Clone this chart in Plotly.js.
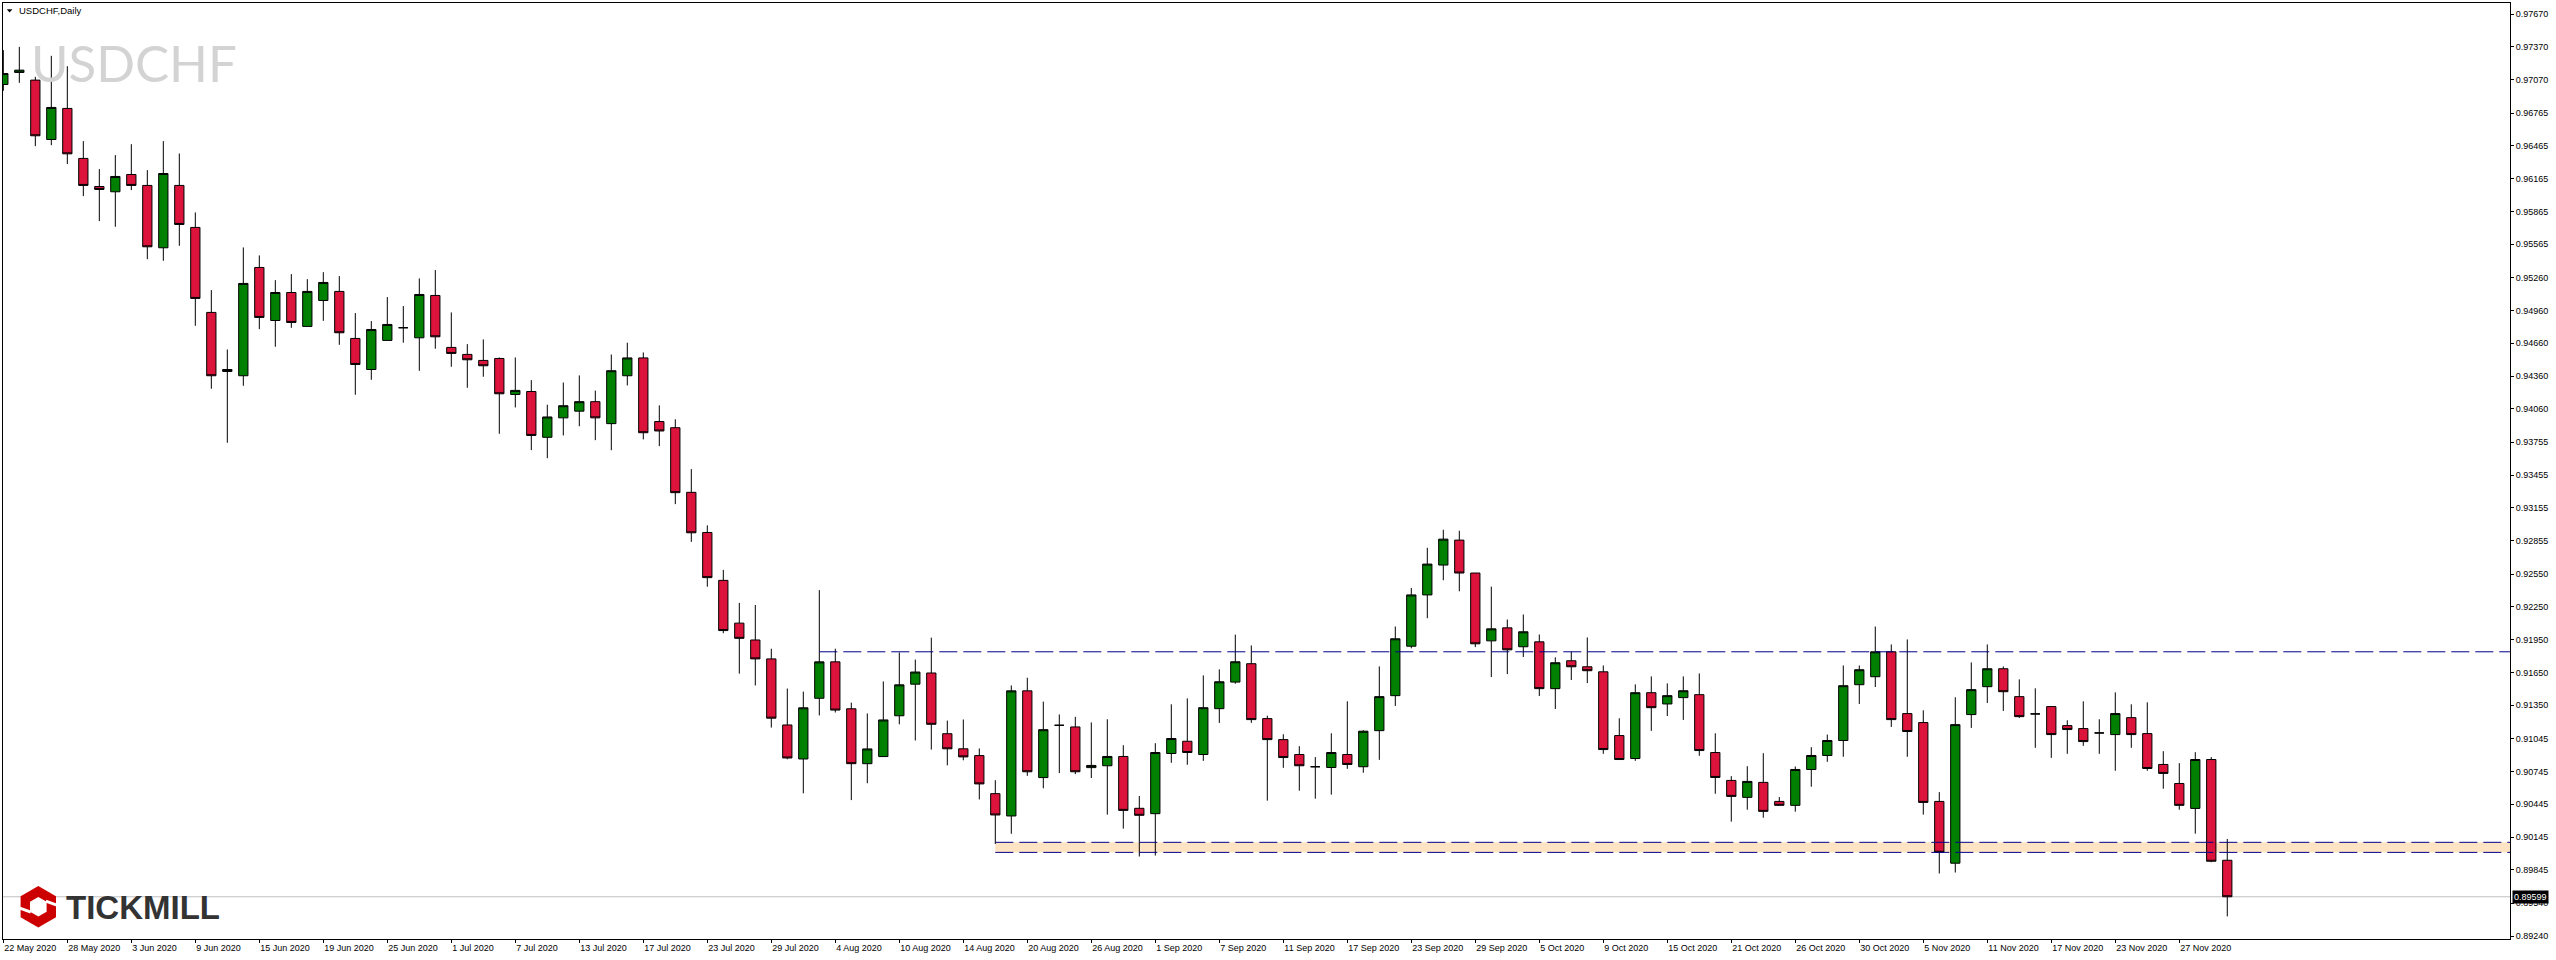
<!DOCTYPE html>
<html>
<head>
<meta charset="utf-8">
<script src="https://cdn.plot.ly/plotly-3.0.1.min.js"></script>
<style>
  html, body { margin: 0; padding: 0; background: #ffffff; }
  #chart { width: 2556px; height: 960px; }
</style>
</head>
<body>
<div id="chart"></div>
<script>
// ---- data (USDCHF, Daily) ----
var openP = [
  0.97026, 0.97136, 0.97066, 0.96523, 0.96807, 0.96350, 0.96093, 0.96045, 0.96203, 0.96103,
  0.95533, 0.96103, 0.95719, 0.94942, 0.94420, 0.94363, 0.95353, 0.94868, 0.95124, 0.94814,
  0.95051, 0.95134, 0.94704, 0.94420, 0.94686, 0.94802, 0.94710, 0.95097, 0.94622, 0.94558,
  0.94503, 0.94521, 0.94192, 0.94219, 0.93800, 0.93978, 0.94039, 0.94126, 0.93925, 0.94363,
  0.94526, 0.93944, 0.93888, 0.93297, 0.92930, 0.92492, 0.92101, 0.91947, 0.91774, 0.91170,
  0.90859, 0.91414, 0.91747, 0.91318, 0.90816, 0.90881, 0.91254, 0.91543, 0.91645, 0.91090,
  0.90952, 0.90890, 0.90542, 0.90338, 0.91482, 0.90689, 0.91167, 0.91152, 0.90780, 0.90797,
  0.90882, 0.90408, 0.90359, 0.90909, 0.91021, 0.90900, 0.91319, 0.91562, 0.91730, 0.91228,
  0.91036, 0.90900, 0.90788, 0.90781, 0.90900, 0.90788, 0.91118, 0.91438, 0.91890, 0.92359,
  0.92632, 0.92860, 0.92559, 0.91939, 0.92058, 0.91885, 0.91930, 0.91502, 0.91757, 0.91702,
  0.91656, 0.91073, 0.90863, 0.91465, 0.91362, 0.91420, 0.91447, 0.90918, 0.90663, 0.90508,
  0.90645, 0.90471, 0.90435, 0.90763, 0.90891, 0.91028, 0.91538, 0.91611, 0.91839, 0.91274,
  0.91192, 0.90471, 0.89906, 0.91265, 0.91520, 0.91684, 0.91429, 0.91271, 0.91338, 0.91164,
  0.91137, 0.91097, 0.91082, 0.91237, 0.91091, 0.90809, 0.90635, 0.90407, 0.90854, 0.89933
];
var highP = [
  0.97340, 0.97370, 0.97096, 0.97288, 0.97193, 0.96508, 0.96252, 0.96380, 0.96480, 0.96243,
  0.96508, 0.96395, 0.95856, 0.95146, 0.94603, 0.95536, 0.95463, 0.95237, 0.95292, 0.95246,
  0.95310, 0.95274, 0.94936, 0.94863, 0.95082, 0.95000, 0.95253, 0.95329, 0.94942, 0.94652,
  0.94695, 0.94530, 0.94530, 0.94323, 0.94098, 0.94301, 0.94366, 0.94227, 0.94557, 0.94665,
  0.94576, 0.94092, 0.93965, 0.93509, 0.92995, 0.92588, 0.92286, 0.92267, 0.91867, 0.91503,
  0.91475, 0.92403, 0.91867, 0.91374, 0.91275, 0.91568, 0.91833, 0.91768, 0.91968, 0.91210,
  0.91220, 0.90955, 0.90665, 0.91531, 0.91602, 0.91383, 0.91266, 0.91244, 0.91193, 0.91222,
  0.90985, 0.90520, 0.91003, 0.91359, 0.91413, 0.91623, 0.91678, 0.91996, 0.91897, 0.91255,
  0.91085, 0.90976, 0.90876, 0.91094, 0.91386, 0.91122, 0.91705, 0.92070, 0.92423, 0.92790,
  0.92955, 0.92946, 0.92559, 0.92435, 0.92134, 0.92180, 0.91997, 0.91788, 0.91839, 0.91970,
  0.91714, 0.91231, 0.91541, 0.91614, 0.91550, 0.91614, 0.91641, 0.91094, 0.90702, 0.90793,
  0.90912, 0.90511, 0.90790, 0.90967, 0.91082, 0.91714, 0.91714, 0.92070, 0.91906, 0.91952,
  0.91304, 0.90556, 0.91423, 0.91742, 0.91906, 0.91705, 0.91587, 0.91505, 0.91338, 0.91213,
  0.91386, 0.91222, 0.91468, 0.91359, 0.91377, 0.90930, 0.90821, 0.90921, 0.90876, 0.90128
];
var lowP = [
  0.96968, 0.97041, 0.96462, 0.96471, 0.96298, 0.96005, 0.95777, 0.95725, 0.96060, 0.95429,
  0.95414, 0.95551, 0.94820, 0.94244, 0.93750, 0.94271, 0.94789, 0.94628, 0.94801, 0.94814,
  0.94865, 0.94646, 0.94189, 0.94326, 0.94686, 0.94665, 0.94408, 0.94610, 0.94445, 0.94253,
  0.94354, 0.93832, 0.94073, 0.93683, 0.93609, 0.93817, 0.93901, 0.93774, 0.93682, 0.94274,
  0.93781, 0.93719, 0.93189, 0.92844, 0.92434, 0.92009, 0.91639, 0.91531, 0.91146, 0.90856,
  0.90545, 0.91257, 0.91284, 0.90483, 0.90637, 0.90881, 0.91176, 0.91028, 0.90945, 0.90801,
  0.90847, 0.90489, 0.90082, 0.90175, 0.90705, 0.90591, 0.90730, 0.90720, 0.90685, 0.90350,
  0.90222, 0.89967, 0.89976, 0.90824, 0.90806, 0.90842, 0.91189, 0.91547, 0.91189, 0.90478,
  0.90778, 0.90569, 0.90496, 0.90533, 0.90769, 0.90733, 0.90851, 0.91344, 0.91871, 0.92146,
  0.92493, 0.92392, 0.91882, 0.91608, 0.91635, 0.91791, 0.91435, 0.91316, 0.91581, 0.91553,
  0.90906, 0.90854, 0.90842, 0.91116, 0.91252, 0.91216, 0.90888, 0.90541, 0.90286, 0.90395,
  0.90322, 0.90435, 0.90377, 0.90605, 0.90833, 0.90879, 0.91362, 0.91517, 0.91152, 0.90879,
  0.90350, 0.89812, 0.89821, 0.91143, 0.91371, 0.91298, 0.91234, 0.90961, 0.90869, 0.90906,
  0.90979, 0.90906, 0.90751, 0.90961, 0.90751, 0.90587, 0.90395, 0.90176, 0.89915, 0.89420
];
var closeP = [
  0.97126, 0.97157, 0.96557, 0.96816, 0.96392, 0.96103, 0.96066, 0.96185, 0.96103, 0.95542,
  0.96212, 0.95746, 0.95070, 0.94363, 0.94402, 0.95207, 0.94896, 0.95124, 0.94850, 0.95134,
  0.95216, 0.94756, 0.94466, 0.94786, 0.94832, 0.94802, 0.95106, 0.94719, 0.94567, 0.94509,
  0.94454, 0.94198, 0.94229, 0.93817, 0.93986, 0.94089, 0.94126, 0.93978, 0.94409, 0.94526,
  0.93842, 0.93858, 0.93294, 0.92927, 0.92517, 0.92033, 0.91962, 0.91774, 0.91232, 0.90868,
  0.91327, 0.91747, 0.91306, 0.90816, 0.90951, 0.91216, 0.91537, 0.91654, 0.91176, 0.90952,
  0.90878, 0.90631, 0.90347, 0.91482, 0.90742, 0.91127, 0.91167, 0.90742, 0.90800, 0.90882,
  0.90389, 0.90344, 0.90918, 0.91046, 0.90918, 0.91328, 0.91565, 0.91748, 0.91219, 0.91036,
  0.90872, 0.90797, 0.90788, 0.90918, 0.90809, 0.91113, 0.91429, 0.91958, 0.92359, 0.92641,
  0.92869, 0.92559, 0.91912, 0.92049, 0.91857, 0.92022, 0.91502, 0.91739, 0.91702, 0.91666,
  0.90945, 0.90854, 0.91465, 0.91328, 0.91438, 0.91483, 0.90936, 0.90690, 0.90517, 0.90654,
  0.90380, 0.90435, 0.90763, 0.90891, 0.91028, 0.91529, 0.91675, 0.91839, 0.91219, 0.91110,
  0.90462, 0.90006, 0.91173, 0.91493, 0.91684, 0.91474, 0.91246, 0.91271, 0.91082, 0.91128,
  0.91018, 0.91097, 0.91274, 0.91082, 0.90772, 0.90727, 0.90435, 0.90854, 0.89924, 0.89599
];

// date labels on the time axis (one every 4 bars, starting at the first bar)
var dateLabels = [
  "22 May 2020", "28 May 2020", "3 Jun 2020", "9 Jun 2020", "15 Jun 2020", "19 Jun 2020",
  "25 Jun 2020", "1 Jul 2020", "7 Jul 2020", "13 Jul 2020", "17 Jul 2020", "23 Jul 2020",
  "29 Jul 2020", "4 Aug 2020", "10 Aug 2020", "14 Aug 2020", "20 Aug 2020", "26 Aug 2020",
  "1 Sep 2020", "7 Sep 2020", "11 Sep 2020", "17 Sep 2020", "23 Sep 2020", "29 Sep 2020",
  "5 Oct 2020", "9 Oct 2020", "15 Oct 2020", "21 Oct 2020", "26 Oct 2020", "30 Oct 2020",
  "5 Nov 2020", "11 Nov 2020", "17 Nov 2020", "23 Nov 2020", "27 Nov 2020"
];
var labelEveryBars = 4;

// price scale labels
var priceLabels = [
  "0.97670", "0.97370", "0.97070", "0.96765", "0.96465", "0.96165", "0.95865", "0.95565",
  "0.95260", "0.94960", "0.94660", "0.94360", "0.94060", "0.93755", "0.93455", "0.93155",
  "0.92855", "0.92550", "0.92250", "0.91950", "0.91650", "0.91350", "0.91045", "0.90745",
  "0.90445", "0.90145", "0.89845", "0.89540", "0.89240"
];

// drawn levels
var resistanceLevel = 0.91839;   // from bar index 51
var resistanceStart = 51;
var supportTop = 0.90097;        // from bar index 62
var supportBottom = 0.90005;
var supportStart = 62;
var lastPrice = 0.89599;

// ---- build ----
var barIndex = [];
for (var i = 0; i < closeP.length; i++) barIndex.push(i);
var tickPos = [];
for (var j = 0; j < dateLabels.length; j++) tickPos.push(j * labelEveryBars);
var priceTickVals = priceLabels.map(function (s) { return parseFloat(s); });

var W = 2556, H = 960;
var mL = 3, mR = 46, mT = 3, mB = 21;
var plotW = W - mL - mR, plotH = H - mT - mB;
function px(x) { return (x - mL) / plotW; }
function py(y) { return (H - mB - y) / plotH; }

var xMax = 156.67;

var trace = {
  type: 'candlestick',
  x: barIndex,
  open: openP, high: highP, low: lowP, close: closeP,
  increasing: { line: { color: '#000000', width: 1 }, fillcolor: '#008000' },
  decreasing: { line: { color: '#000000', width: 1 }, fillcolor: '#DC143C' },
  whiskerwidth: 0,
  hoverinfo: 'none',
  showlegend: false
};

// logo geometry (pixel space)
var lcx = 38.3, lcy = 906.7, lrx = 17.7, lry = 20.7, lsy = 10.5;
function hexPath(s) {
  var pts = [[0, -lry], [lrx, -lsy], [lrx, lsy], [0, lry], [-lrx, lsy], [-lrx, -lsy]];
  return pts.map(function (p, k) {
    return (k === 0 ? 'M' : 'L') + px(lcx + p[0] * s) + ',' + py(lcy + p[1] * s);
  }).join(' ') + ' Z';
}

var shapes = [
  { type: 'rect', xref: 'x', yref: 'y', x0: supportStart, x1: xMax + 5, y0: supportBottom, y1: supportTop,
    fillcolor: '#FFE4C4', line: { width: 0 }, layer: 'below' },
  { type: 'line', xref: 'paper', yref: 'y', x0: 0, x1: 1, y0: lastPrice, y1: lastPrice,
    line: { color: '#C0C0C0', width: 1 }, layer: 'below' },
  { type: 'line', xref: 'x', yref: 'y', x0: resistanceStart, x1: xMax + 5, y0: resistanceLevel, y1: resistanceLevel,
    line: { color: '#00008B', width: 1, dash: '18px,6px' }, layer: 'above' },
  { type: 'line', xref: 'x', yref: 'y', x0: supportStart, x1: xMax + 5, y0: supportTop, y1: supportTop,
    line: { color: '#00008B', width: 1, dash: '18px,6px' }, layer: 'above' },
  { type: 'line', xref: 'x', yref: 'y', x0: supportStart, x1: xMax + 5, y0: supportBottom, y1: supportBottom,
    line: { color: '#00008B', width: 1, dash: '18px,6px' }, layer: 'above' },
  // header triangle
  { type: 'path', xref: 'paper', yref: 'paper',
    path: 'M' + px(6.8) + ',' + py(9.3) + ' L' + px(12.4) + ',' + py(9.3) + ' L' + px(9.6) + ',' + py(12.6) + ' Z',
    fillcolor: '#000000', line: { width: 0 }, layer: 'above' },
  // logo
  { type: 'path', xref: 'paper', yref: 'paper', path: hexPath(1), fillcolor: '#CC0000', line: { width: 0 }, layer: 'above' },
  { type: 'path', xref: 'paper', yref: 'paper', path: hexPath(0.47), fillcolor: '#FFFFFF', line: { width: 0 }, layer: 'above' },
  { type: 'line', xref: 'paper', yref: 'paper', x0: px(lcx + 7.5), y0: py(lcy - 5.5), x1: px(lcx + 18.5), y1: py(lcy - 1.5),
    line: { color: '#FFFFFF', width: 3 }, layer: 'above' },
  { type: 'line', xref: 'paper', yref: 'paper', x0: px(lcx - 7.5), y0: py(lcy + 5.5), x1: px(lcx - 18.5), y1: py(lcy + 1.5),
    line: { color: '#FFFFFF', width: 3 }, layer: 'above' }
];

var annotations = [
  { xref: 'paper', yref: 'paper', x: px(17.3), y: py(10.8), xanchor: 'left', yanchor: 'middle',
    text: 'USDCHF,Daily', showarrow: false,
    font: { family: 'Liberation Sans, Arial, sans-serif', size: 9.5, color: '#000000' } },
  { xref: 'paper', yref: 'paper', x: px(29), y: py(62.5), xanchor: 'left', yanchor: 'middle',
    text: 'USDCHF', showarrow: false,
    font: { family: 'Lato, Liberation Sans, sans-serif', size: 51, color: '#D3D3D3', weight: 400 } },
  { xref: 'paper', yref: 'paper', x: px(64), y: py(907.5), xanchor: 'left', yanchor: 'middle',
    text: 'TICKMILL', showarrow: false,
    font: { family: 'Liberation Sans, Arial, sans-serif', size: 33, color: '#333333', weight: 700 } },
  { xref: 'paper', yref: 'y', x: 1, y: lastPrice, xanchor: 'left', yanchor: 'middle', xshift: 2,
    text: lastPrice.toFixed(5), showarrow: false, bgcolor: '#000000', borderpad: 1,
    font: { family: 'Liberation Sans, Arial, sans-serif', size: 9, color: '#FFFFFF' } }
];

var layout = {
  width: W, height: H,
  margin: { l: mL, r: mR, t: mT, b: mB, pad: 0 },
  paper_bgcolor: '#FFFFFF', plot_bgcolor: '#FFFFFF',
  showlegend: false,
  boxgap: 0.42, boxgroupgap: 0,
  xaxis: {
    type: 'linear', range: [-0.02, xMax], automargin: false,
    showgrid: false, zeroline: false,
    showline: true, linecolor: '#000000', linewidth: 1, mirror: true,
    ticks: 'outside', ticklen: 3, tickcolor: '#000000', tickwidth: 1,
    tickmode: 'array', tickvals: tickPos, ticktext: dateLabels,
    ticklabelposition: 'outside right',
    tickfont: { family: 'Liberation Sans, Arial, sans-serif', size: 9, color: '#000000' },
    rangeslider: { visible: false }, fixedrange: true
  },
  yaxis: {
    side: 'right', range: [0.89213, 0.97771], automargin: false,
    showgrid: false, zeroline: false,
    showline: true, linecolor: '#000000', linewidth: 1, mirror: true,
    ticks: 'outside', ticklen: 3, tickcolor: '#000000', tickwidth: 1,
    tickmode: 'array', tickvals: priceTickVals, ticktext: priceLabels,
    tickfont: { family: 'Liberation Sans, Arial, sans-serif', size: 9, color: '#000000' },
    fixedrange: true
  },
  shapes: shapes,
  annotations: annotations
};

Plotly.newPlot('chart', [trace], layout, { staticPlot: true, displayModeBar: false });
</script>
</body>
</html>
